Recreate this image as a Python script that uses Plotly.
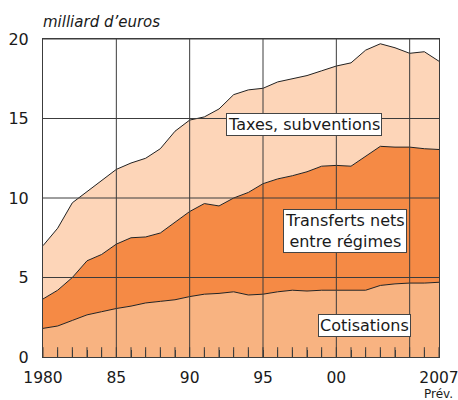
import plotly.graph_objects as go

years = list(range(1980, 2008))
cotisations = [1.8, 1.95, 2.3, 2.65, 2.85, 3.05, 3.2, 3.4, 3.5, 3.6, 3.8, 3.95, 4.0, 4.1,
               3.9, 3.95, 4.1, 4.2, 4.15, 4.2, 4.2, 4.2, 4.2, 4.5, 4.6, 4.65, 4.65, 4.7]
transferts = [1.85, 2.25, 2.7, 3.4, 3.6, 4.05, 4.3, 4.15, 4.3, 4.85, 5.35, 5.7, 5.5, 5.9,
              6.45, 6.95, 7.1, 7.2, 7.5, 7.8, 7.85, 7.8, 8.45, 8.75, 8.6, 8.55, 8.45, 8.35]
taxes = [3.35, 3.9, 4.7, 4.35, 4.65, 4.7, 4.7, 4.95, 5.3, 5.75, 5.75, 5.45, 6.1, 6.5,
         6.45, 6.0, 6.1, 6.1, 6.05, 6.0, 6.25, 6.5, 6.65, 6.45, 6.25, 5.9, 6.1, 5.55]

x_labels = {1980: "1980", 1985: "85", 1990: "90", 1995: "95", 2000: "00", 2007: "2007"}
x_grid = [1985, 1990, 1995, 2000, 2005]
y_tickvals = [0, 5, 10, 15, 20]
y_grid = [5, 10, 15, 20]

FONT = "DejaVu Sans, Liberation Sans, sans-serif"
GRID = "#3c3c3c"
TXT = "#1a1a1a"

fig = go.Figure()
series = [
    ("Cotisations", cotisations, "#F8B381"),
    ("Transferts nets entre régimes", transferts, "#F58A45"),
    ("Taxes, subventions", taxes, "#FDD5B8"),
]
for name, vals, col in series:
    fig.add_trace(go.Scatter(
        x=years, y=vals, name=name, stackgroup="one", mode="lines",
        line=dict(color="#222222", width=1), fillcolor=col,
        hoverinfo="skip"))

# yearly tick marks along the bottom axis (half of each marker is clipped by the axis)
fig.add_trace(go.Scatter(
    x=years, y=[0] * len(years), mode="markers", cliponaxis=True, hoverinfo="skip",
    marker=dict(symbol="line-ns", size=14, color=GRID, line=dict(color=GRID, width=1)),
    showlegend=False))

shapes = []
for xv in x_grid:
    shapes.append(dict(type="line", xref="x", yref="paper", x0=xv, x1=xv, y0=0, y1=1,
                       line=dict(color=GRID, width=1), layer="above"))
for yv in y_grid:
    shapes.append(dict(type="line", xref="paper", yref="y", x0=0, x1=1, y0=yv, y1=yv,
                       line=dict(color=GRID, width=1), layer="above"))

box = dict(bgcolor="white", bordercolor="#444444", borderwidth=1, borderpad=1,
           font=dict(family=FONT, size=16, color=TXT), showarrow=False)
annotations = [
    dict(x=1997.8, y=14.6, xref="x", yref="y", text="Taxes, subventions", **box),
    dict(x=2000.6, y=7.95, xref="x", yref="y", text="Transferts nets<br>entre régimes", **box),
    dict(x=2001.9, y=2.0, xref="x", yref="y", text="Cotisations", **box),
    dict(x=0, y=1, xref="paper", yref="paper", xanchor="left", yanchor="bottom", yshift=6,
         xshift=-2, text="<i>milliard d’euros</i>", showarrow=False,
         font=dict(family=FONT, size=15, color=TXT)),
    dict(x=2007, y=0, xref="x", yref="paper", xanchor="center", yanchor="top", yshift=-28,
         xshift=-1, text="Prév.", showarrow=False,
         font=dict(family=FONT, size=12, color=TXT)),
]

fig.update_layout(
    width=458, height=400,
    margin=dict(l=43, r=19, t=39, b=43, autoexpand=False),
    paper_bgcolor="white", plot_bgcolor="white",
    showlegend=False,
    shapes=shapes, annotations=annotations,
    font=dict(family=FONT, size=16, color=TXT),
    xaxis=dict(
        range=[1980, 2007], tickmode="array", tickvals=years,
        ticktext=[x_labels.get(y, "") for y in years],
        showgrid=False, zeroline=False, showline=True, linecolor=GRID, linewidth=1,
        mirror=True, ticks="inside", ticklen=7, tickcolor=GRID, tickwidth=1,
        ticklabelstandoff=6, tickfont=dict(size=15.5),
        automargin=False, ticklabeloverflow="allow", layer="above traces",
    ),
    yaxis=dict(
        range=[0, 20], tickmode="array", tickvals=y_tickvals,
        showgrid=False, zeroline=False, showline=True, linecolor=GRID, linewidth=1,
        mirror=True, ticks="", ticklabelstandoff=10, tickfont=dict(size=16),
        automargin=False,
    ),
)

# remove the default 8px page margin so the figure fills the 458x400 window exactly
fig.write_html("out.html", config={"displayModeBar": False, "staticPlot": True},
               post_script="document.body.style.margin='0';document.body.style.overflow='hidden';")
